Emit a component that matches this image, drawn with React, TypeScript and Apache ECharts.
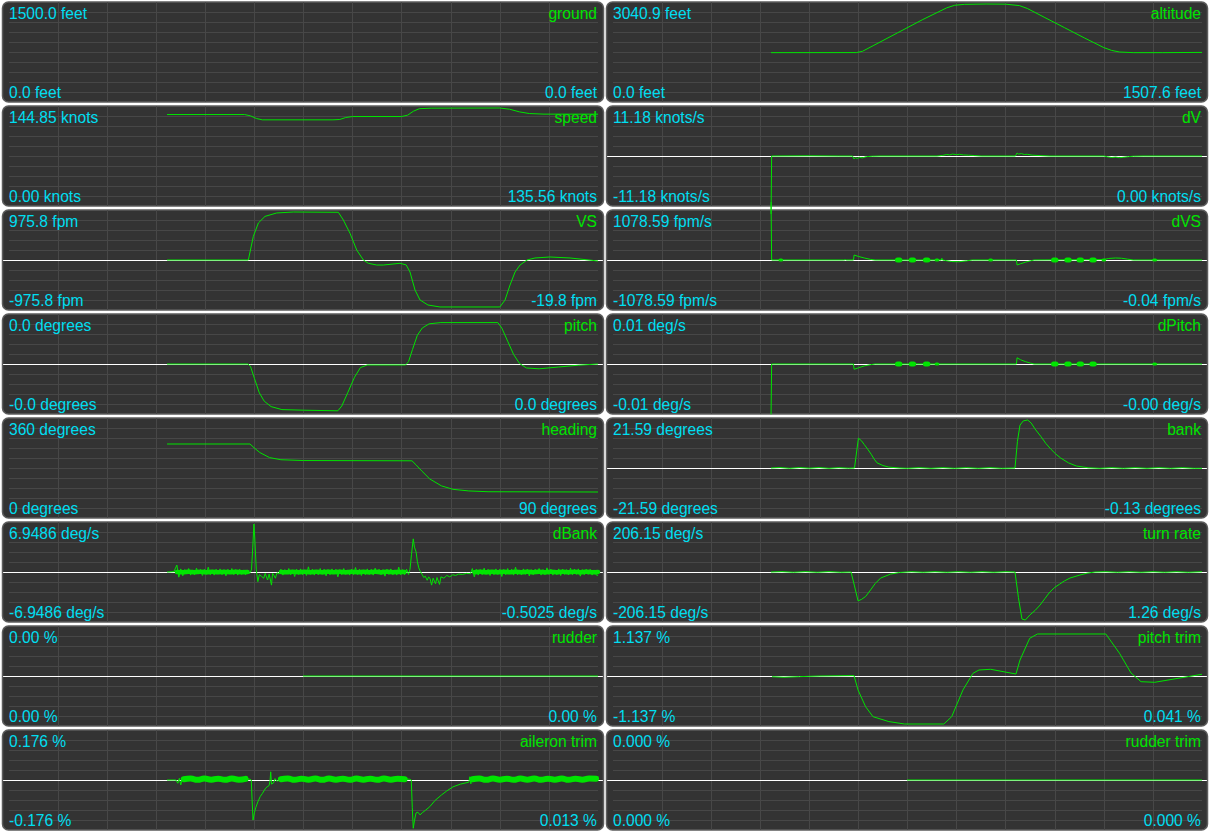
import React, { useEffect, useRef } from "react";
import * as echarts from "echarts";

type Pt = [number, number];

// ---------------- time window (seconds shown across each plot) ----------------
const T_END = 600;

// ---------------- labels: [top value, bottom value, current value] ----------------
const groundLabels = ["1500.0 feet", "0.0 feet", "0.0 feet"];
const altitudeLabels = ["3040.9 feet", "0.0 feet", "1507.6 feet"];
const speedLabels = ["144.85 knots", "0.00 knots", "135.56 knots"];
const dVLabels = ["11.18 knots/s", "-11.18 knots/s", "0.00 knots/s"];
const vsLabels = ["975.8 fpm", "-975.8 fpm", "-19.8 fpm"];
const dVSLabels = ["1078.59 fpm/s", "-1078.59 fpm/s", "-0.04 fpm/s"];
const pitchLabels = ["0.0 degrees", "-0.0 degrees", "0.0 degrees"];
const dPitchLabels = ["0.01 deg/s", "-0.01 deg/s", "-0.00 deg/s"];
const headingLabels = ["360 degrees", "0 degrees", "90 degrees"];
const bankLabels = ["21.59 degrees", "-21.59 degrees", "-0.13 degrees"];
const dBankLabels = ["6.9486 deg/s", "-6.9486 deg/s", "-0.5025 deg/s"];
const turnRateLabels = ["206.15 deg/s", "-206.15 deg/s", "1.26 deg/s"];
const rudderLabels = ["0.00 %", "0.00 %", "0.00 %"];
const pitchTrimLabels = ["1.137 %", "-1.137 %", "0.041 %"];
const aileronTrimLabels = ["0.176 %", "-0.176 %", "0.013 %"];
const rudderTrimLabels = ["0.000 %", "0.000 %", "0.000 %"];

// ---------------- value ranges [min, max] ----------------
const groundRange = [0, 1500];
const altitudeRange = [0, 3040.9];
const speedRange = [0, 144.85];
const dVRange = [-11.18, 11.18];
const vsRange = [-975.8, 975.8];
const dVSRange = [-1078.59, 1078.59];
const pitchRange = [-0.04, 0.04];
const dPitchRange = [-0.01, 0.01];
const headingRange = [0, 360];
const bankRange = [-21.59, 21.59];
const dBankRange = [-6.9486, 6.9486];
const turnRateRange = [-206.15, 206.15];
const rudderRange = [-1, 1];
const pitchTrimRange = [-1.137, 1.137];
const aileronTrimRange = [-0.176, 0.176];
const rudderTrimRange = [-1, 1];

// ---------------- series data: [time s, value] ----------------
const groundData: Pt[] = [];

const altitudeData: Pt[] = [
  [161, 1500], [248, 1502], [254, 1540], [265, 1720], [290, 2130], [315, 2540], [340, 2920],
  [348, 3000], [358, 3030], [380, 3040.9], [400, 3035], [414, 2990], [422, 2900], [440, 2610],
  [460, 2290], [480, 1970], [500, 1660], [508, 1570], [516, 1520], [530, 1500], [560, 1500], [600, 1507.6],
];

const speedData: Pt[] = [
  [161, 135], [240, 135], [246, 133], [252, 129], [258, 127], [330, 127], [337, 127.5],
  [343, 130.5], [350, 132], [400, 132], [406, 134], [412, 140], [418, 143.8], [430, 144.6],
  [500, 144.85], [510, 143], [520, 139], [530, 136.5], [545, 135.6], [600, 135.56],
];

const dVData: Pt[] = [
  [161, -13.5], [161.6, 0], [200, 0.05], [230, 0], [244, 0], [245.5, -0.7], [247, -0.4], [249, -0.6],
  [251, -0.3], [254, -0.45], [258, -0.15], [264, -0.05], [272, 0], [330, 0], [336, 0.15], [340, 0.35],
  [343, 0.25], [346, 0.45], [350, 0.3], [353, 0.4], [357, 0.25], [362, 0.2], [368, 0.1], [375, 0],
  [410, 0], [411.6, 0.7], [413, 0.45], [416, 0.55], [419, 0.35], [422, 0.4], [427, 0.2], [435, 0.1],
  [445, 0], [500, 0], [504, -0.2], [508, -0.35], [512, -0.25], [516, -0.4], [520, -0.3], [525, -0.15],
  [530, -0.05], [540, 0], [600, 0],
];

const vsData: Pt[] = [
  [161, 0], [243.8, 0], [248.9, 480], [254, 752], [260.8, 887], [272.7, 956], [289.6, 975.8],
  [335.5, 970], [340.6, 813], [347.4, 543], [354.2, 203], [361, 0], [366, -67], [374.6, -102],
  [381.3, -102], [398.3, -67], [404.6, -100], [408.5, -244], [413.6, -610], [418.7, -813],
  [426.8, -915], [439, -955], [500, -955], [505.3, -813], [510.4, -508], [515.5, -244],
  [520.6, -102], [527.7, 0], [535.8, 41], [551, 61], [571.5, 41], [600, -19.8],
];

const dVSData: Pt[] = [
  [161, 1300], [161.6, 0], [235, 0], [237, 8], [238, 0],
  [245, 0], [245.6, 112], [250, 80], [256, 45], [262, 15], [267, 0],
  [334.5, 0], [335, 40], [335.6, 0],
  [338, -10], [345, -35], [352, -40], [360, -20], [366, 0],
  [411, 0], [411.6, -112], [415, -85], [420, -50], [425, -20], [429, 0],
  [500, 10], [505, 35], [512, 45], [518, 40], [524, 20], [530, 0],
  [600, -0.04],
];
// centres (s) of short oscillation bursts drawn as blobs on the zero line
const dVSBigBursts = [291, 305, 319.5, 450, 463.5, 476, 489];
const dVSSmallBursts = [171, 330, 384.7, 500, 551.8];

const pitchData: Pt[] = [
  [161, 0], [243.5, 0], [246, -0.002], [250, -0.012], [255, -0.024], [260, -0.031], [267, -0.0355],
  [278, -0.038], [300, -0.0385], [335, -0.039], [339, -0.035], [345, -0.024], [352, -0.011],
  [358, -0.003], [365, -0.0008], [404, -0.0008], [407, 0.002], [411, 0.012], [416, 0.024],
  [421, 0.03], [428, 0.0335], [440, 0.0345], [498, 0.0345], [502, 0.03], [508, 0.019], [514, 0.008],
  [520, 0.0005], [527, -0.0033], [540, -0.004], [560, -0.0025], [580, -0.001], [600, 0],
];

const dPitchData: Pt[] = [
  [161, -0.0105], [161.6, 0],
  [245, 0], [245.6, -0.0011], [250, -0.0008], [256, -0.0004], [262, -0.00015], [267, 0],
  [411, 0], [411.6, 0.0013], [415, 0.0009], [420, 0.0005], [425, 0.0002], [429, 0],
  [600, 0],
];
const dPitchBigBursts = [291, 305, 319.5, 450, 463.5, 476, 489];
const dPitchSmallBursts = [330, 551.8];

const headingData: Pt[] = [
  [161, 270], [245.5, 270], [249.6, 256], [255.5, 238], [265.4, 219], [277, 211], [300, 208],
  [410.5, 207], [414.6, 192], [420.7, 168], [428.6, 139], [440.5, 113], [452.3, 100], [468.4, 94],
  [488, 91], [600, 90],
];

const bankData: Pt[] = [
  [161, 0], [170, 0.2], [180, -0.15], [190, 0.2], [200, -0.1], [210, 0.2], [220, -0.15], [230, 0.15],
  [240, -0.1], [246, 0], [250, 13.4], [253, 12.3], [256, 10.5], [259.4, 8.5], [263, 6.2], [266, 4],
  [269, 2.3], [275, 1.1], [281, 0.4], [292, 0], [300, -0.15], [312, 0.15], [324, -0.15], [336, 0.15],
  [348, -0.15], [360, 0.15], [372, -0.15], [384, 0.15], [396, -0.15], [409.5, 0], [412, 12],
  [414.6, 19.3], [418, 21.2], [422.5, 21.59], [426, 20.2], [430, 17.5], [436, 14.1], [441, 11],
  [446, 8.5], [451, 6.3], [456, 4.5], [464, 2.3], [472, 0.9], [484, 0.1], [496, -0.15], [508, 0.15],
  [520, -0.15], [532, 0.15], [544, -0.15], [556, 0.15], [568, -0.15], [580, 0.15], [592, -0.15],
  [600, -0.13],
];

// dBank: noise stretches sampled every 2 s, plus the two turn transients
const dBankNoiseA = [
  1.0, -0.75, 0.45, -0.55, 0.35, -0.3, 0.5, -0.45, 0.3, -0.4,
  0.55, -0.3, 0.35, -0.5, 0.4, -0.35, 0.7, -0.4, 0.3, -0.45,
  0.4, -0.3, 0.45, -0.4, 0.35, -0.55, 0.4, -0.3, 0.5, -0.4,
  0.35, -0.45, 0.4, -0.35, 0.3, -0.4,
];
const dBankNoiseB = [
  0.4, -0.45, 0.35, -0.3, 0.5, -0.4, 0.3, -0.65, 0.4, -0.35,
  0.45, -0.4, 0.3, -0.5, 0.75, -0.35, 0.4, -0.45, 0.3, -0.4,
  0.5, -0.35, 0.4, -0.55, 0.35, -0.4, 0.45, -0.3, 0.4, -0.7,
  0.35, -0.4, 0.5, -0.35, 0.3, -0.45, 0.4, -0.4, 0.65, -0.35,
  0.4, -0.5, 0.3, -0.4, 0.45, -0.35, 0.4, -0.45, 0.55, -0.3,
  0.4, -0.4, 0.35, -0.6, 0.4, -0.35, 0.45, -0.4, 0.3, -0.45,
  0.7, -0.4, 0.35, -0.4, 0.4, -0.35,
];
const dBankNoiseC = [
  0.5, -0.7, 0.4, -0.45, 0.35, -0.4, 0.55, -0.35, 0.4, -0.5,
  0.3, -0.4, 0.45, -0.35, 0.4, -0.65, 0.35, -0.4, 0.5, -0.3,
  0.4, -0.45, 0.7, -0.4, 0.3, -0.4, 0.45, -0.35, 0.4, -0.55,
  0.35, -0.4, 0.4, -0.3, 0.5, -0.45, 0.35, -0.4, 0.6, -0.35,
  0.4, -0.45, 0.3, -0.4, 0.45, -0.5, 0.4, -0.35, 0.35, -0.4,
  0.55, -0.4, 0.4, -0.35, 0.45, -0.6, 0.35, -0.4, 0.4, -0.35,
  0.4, -0.45, 0.3, -0.4, -0.5025,
];
// centre line of the dense noise band, sampled every 6 s
const dBankBandA = [0.0, -0.04, 0.03, -0.02, 0.02, -0.03, 0.03, -0.02, 0.01, -0.03, 0.02, -0.02, 0.0];
const dBankBandB = [
  0.0, -0.03, 0.02, -0.02, 0.03, -0.03, 0.02, -0.02, 0.03, -0.02, 0.02,
  -0.03, 0.02, -0.02, 0.03, -0.02, 0.02, -0.03, 0.02, -0.02, 0.01, 0.0,
];
const dBankBandC = [
  -0.02, 0.02, -0.03, 0.03, -0.02, 0.02, -0.03, 0.02, -0.02, 0.03, -0.02,
  0.02, -0.03, 0.02, -0.02, 0.03, -0.02, 0.02, -0.03, 0.02, -0.02, 0.01,
];
const dBankTurn1: Pt[] = [
  [242.5, 0.2], [245, -0.2], [247, 0.3], [248.3, 3.5], [249.5, 6.9486], [250.5, 4.5], [251.9, 0.3],
  [253.5, -1.4], [255, -0.4], [257, -0.6], [259.5, -0.9], [261, -0.2], [263.4, -1.16], [265, -0.3],
  [267.4, -1.9], [268.5, -0.2], [270, -0.5], [271.4, -0.9], [273, -0.1], [275, -0.3],
];
const dBankTurn2: Pt[] = [
  [408.5, 0.4], [410, 2.5], [411.8, 4.8], [413, 3.6], [414.7, 2.9], [416, 1.5], [417.4, 0.6],
  [419, 0.1], [421, -0.4], [422.5, -0.8], [424, -0.6], [426, -1.2], [427.5, -0.7], [429, -1.0],
  [430.5, -1.9], [432, -0.9], [434.5, -1.7], [436, -0.8], [438.6, -1.8], [440, -0.7], [443, -0.9],
  [446, -0.5], [449, -0.7], [452, -0.4], [455, -0.5], [458, -0.3], [462, -0.35], [466, -0.2], [470, -0.25],
];

const turnRateData: Pt[] = [
  [161, 0], [172, 1.5], [184, -1.2], [196, 1.5], [208, -1.2], [220, 1.5], [232, -1.2], [242.5, 0],
  [246, -60], [249.6, -124], [253, -118], [257.4, -105], [262.4, -77], [267, -50], [272.6, -26],
  [282.8, -9], [292, -2], [304, 1.2], [316, -1.2], [328, 1.2], [340, -1.2], [352, 1.2], [364, -1.2],
  [376, 1.2], [388, -1.2], [400, 1.2], [409.5, 0], [413, -110], [416.6, -202], [420, -206.15],
  [424.8, -184], [430, -165], [435, -142], [440, -114], [445, -86], [450, -66], [455, -52],
  [460, -38], [465.5, -26], [475.7, -13], [483, -5], [491, 0], [502, 1.2], [514, -1.2], [526, 1.2],
  [538, -1.2], [550, 1.2], [562, -1.2], [574, 1.2], [586, -1.2], [600, 1.26],
];

const rudderData: Pt[] = [[299.5, 0], [600, 0]];

const pitchTrimData: Pt[] = [
  [162, -0.017], [174, -0.03], [190, -0.015], [210, 0], [245.5, 0.01], [249.6, -0.33],
  [257.3, -0.727], [264.9, -0.964], [281, -1.08], [297, -1.137], [337, -1.137], [345, -0.964],
  [356.5, -0.33], [366.7, 0.064], [372.8, 0.142], [384.7, 0.159], [410.5, 0.047], [414.6, 0.379],
  [424.5, 0.893], [432.4, 0.995], [502, 0.995], [516, 0.538], [527.7, 0.071], [537.9, -0.135],
  [551.8, -0.149], [600, 0.041],
];

// aileron trim: thick oscillation band (centre line, sampled every 7 s) + thin transients
const aileronBandA = [0.003, 0.0055, 0.0005, 0.0055, 0.001, 0.005, 0.0005, 0.0055, 0.001, 0.004];
const aileronBandB = [
  0.003, 0.0055, 0.0005, 0.005, 0.001, 0.0055, 0.0005, 0.0055, 0.001, 0.005,
  0.0005, 0.0055, 0.001, 0.005, 0.0005, 0.0055, 0.001, 0.005, 0.003,
];
const aileronBandC = [
  0.003, 0.0055, 0.0005, 0.0055, 0.001, 0.005, 0.0005, 0.0055, 0.001, 0.0055,
  0.0005, 0.005, 0.001, 0.0055, 0.0005, 0.005, 0.001, 0.0055, 0.005,
];
const aileronPre: Pt[] = [
  [161, 0], [170, 0], [172, -0.012], [173.5, 0.006], [175, -0.018], [176.5, 0.004], [178, 0.004],
];
const aileronTurn1: Pt[] = [
  [245, 0.003], [246.8, 0], [247.6, -0.07], [248.6, -0.147], [250, -0.12], [251.5, -0.1],
  [253.5, -0.08], [256, -0.06], [258, -0.05], [261.4, -0.03], [263, -0.025], [265, -0.02], [266, 0],
  [266.6, 0.03], [267.4, -0.015], [269.4, -0.011], [271, 0.005], [273, -0.005], [275.4, 0.003],
];
const aileronTurn2: Pt[] = [
  [408, 0.003], [409.8, 0], [410.8, -0.1], [411.8, -0.177], [413, -0.15], [414.6, -0.121],
  [416.5, -0.118], [418.7, -0.128], [421, -0.12], [424.6, -0.11], [428.6, -0.098], [434, -0.075],
  [440.5, -0.055], [446, -0.04], [452.3, -0.025], [460, -0.015], [468.4, -0.008], [469.5, 0.012],
  [470.5, -0.014], [471.5, 0.01], [472, 0.003],
];
const aileronEnd: Pt[] = [[600, 0.013]];

const rudderTrimData: Pt[] = [[299.5, 0], [600, 0]];

// ---------------- helpers to place samples on the time axis ----------------
const sampled = (vals: number[], t0: number, dt: number): Pt[] => vals.map((v, i) => [t0 + i * dt, v]);
const burst = (t: number, half: number): Pt[] => [[t - half, 0], [t + half, 0]];

const dBankData: Pt[] = [
  [161, 0], [168, 0.05],
  ...sampled(dBankNoiseA, 171, 2),
  ...dBankTurn1,
  ...sampled(dBankNoiseB, 277, 2),
  ...dBankTurn2,
  ...sampled(dBankNoiseC, 472, 2),
];

const aileronBandSegA = sampled(aileronBandA, 178, 7);
const aileronBandSegB = sampled(aileronBandB, 277, 7);
const aileronBandSegC = sampled(aileronBandC, 472, 7);
const aileronTrimData: Pt[] = [
  ...aileronPre, ...aileronBandSegA, ...aileronTurn1, ...aileronBandSegB,
  ...aileronTurn2, ...aileronBandSegC, ...aileronEnd,
];

// ---------------- panel table ----------------
interface Band { data: Pt[]; width: number; smooth?: boolean }
interface Panel {
  name: string;
  labels: string[];
  range: number[];
  zero: boolean;
  lines: Pt[][];
  bands?: Band[];
}

const panels: Panel[] = [
  { name: "ground", labels: groundLabels, range: groundRange, zero: false, lines: [groundData] },
  { name: "altitude", labels: altitudeLabels, range: altitudeRange, zero: false, lines: [altitudeData] },
  { name: "speed", labels: speedLabels, range: speedRange, zero: false, lines: [speedData] },
  { name: "dV", labels: dVLabels, range: dVRange, zero: true, lines: [dVData] },
  { name: "VS", labels: vsLabels, range: vsRange, zero: true, lines: [vsData] },
  {
    name: "dVS", labels: dVSLabels, range: dVSRange, zero: true, lines: [dVSData],
    bands: [
      ...dVSBigBursts.map((t) => ({ data: burst(t, 1.2), width: 5 })),
      ...dVSSmallBursts.map((t) => ({ data: burst(t, 0.8), width: 3 })),
    ],
  },
  { name: "pitch", labels: pitchLabels, range: pitchRange, zero: true, lines: [pitchData] },
  {
    name: "dPitch", labels: dPitchLabels, range: dPitchRange, zero: true, lines: [dPitchData],
    bands: [
      ...dPitchBigBursts.map((t) => ({ data: burst(t, 1.2), width: 5 })),
      ...dPitchSmallBursts.map((t) => ({ data: burst(t, 0.8), width: 3 })),
    ],
  },
  { name: "heading", labels: headingLabels, range: headingRange, zero: false, lines: [headingData] },
  { name: "bank", labels: bankLabels, range: bankRange, zero: true, lines: [bankData] },
  {
    name: "dBank", labels: dBankLabels, range: dBankRange, zero: true, lines: [dBankData],
    bands: [
      { data: sampled(dBankBandA, 171, 6), width: 4.5, smooth: true },
      { data: sampled(dBankBandB, 277, 6), width: 4.5, smooth: true },
      { data: sampled(dBankBandC, 474, 6), width: 4.5, smooth: true },
    ],
  },
  { name: "turn rate", labels: turnRateLabels, range: turnRateRange, zero: true, lines: [turnRateData] },
  { name: "rudder", labels: rudderLabels, range: rudderRange, zero: true, lines: [rudderData] },
  { name: "pitch trim", labels: pitchTrimLabels, range: pitchTrimRange, zero: true, lines: [pitchTrimData] },
  {
    name: "aileron trim", labels: aileronTrimLabels, range: aileronTrimRange, zero: true,
    lines: [aileronTrimData],
    bands: [
      { data: aileronBandSegA, width: 6, smooth: true },
      { data: aileronBandSegB, width: 6, smooth: true },
      { data: aileronBandSegC, width: 6, smooth: true },
    ],
  },
  { name: "rudder trim", labels: rudderTrimLabels, range: rudderTrimRange, zero: true, lines: [rudderTrimData] },
];

// ---------------- layout / style ----------------
const COL_X = [2.5, 606.5];
const TOP0 = 2;
const ROW_PITCH = 104;
const PANEL_W = 601;
const PANEL_H = 100;
const PLOT_L = 6.5; // offset of t = 0 inside the panel
const PLOT_W = 589; // pixels for T_END seconds
const CYAN = "#00def0";
const NAME_GREEN = "#00e400";
const LINE_GREEN = "#00e400";
const FONT = "15.6px 'Liberation Sans', Arial, sans-serif";

function buildOption() {
  const grid: any[] = [];
  const xAxis: any[] = [];
  const yAxis: any[] = [];
  const series: any[] = [];
  const graphic: any[] = [];
  const pxPerSec = PLOT_W / T_END;
  const xMin = -(PLOT_L - 1) / pxPerSec;
  const xMax = T_END + (PANEL_W - 1 - PLOT_L - PLOT_W) / pxPerSec;

  panels.forEach((p, i) => {
    const col = i % 2;
    const row = Math.floor(i / 2);
    const px = COL_X[col];
    const py = TOP0 + row * ROW_PITCH;
    const gLines = grid.length;
    const gData = gLines + 1;

    graphic.push({
      type: "rect",
      z: -1,
      silent: true,
      shape: { x: px, y: py, width: PANEL_W, height: PANEL_H, r: 6 },
      style: { fill: "#333333", stroke: "#5c5c5c", lineWidth: 1.5 },
    });

    grid.push({ left: px + PLOT_L, top: py, width: PLOT_W, height: PANEL_H });
    xAxis.push({
      gridIndex: gLines, type: "value", min: 0, max: 12, interval: 1,
      axisLine: { show: false }, axisTick: { show: false }, axisLabel: { show: false },
      splitLine: { show: true, showMinLine: false, showMaxLine: false, lineStyle: { color: "#474747", width: 1 } },
    });
    yAxis.push({
      gridIndex: gLines, type: "value", min: 0, max: 10, interval: 1,
      axisLine: { show: false }, axisTick: { show: false }, axisLabel: { show: false },
      splitLine: { show: true, showMinLine: false, showMaxLine: false, lineStyle: { color: "#474747", width: 1 } },
    });

    grid.push({ left: px + 1, top: py + 2, width: PANEL_W - 2, height: PANEL_H - 4 });
    xAxis.push({
      gridIndex: gData, type: "value", min: xMin, max: xMax,
      axisLine: { show: p.zero, onZero: true, lineStyle: { color: "#ffffff", width: 1 } },
      axisTick: { show: false }, axisLabel: { show: false }, splitLine: { show: false },
    });
    yAxis.push({
      gridIndex: gData, type: "value", min: p.range[0], max: p.range[1],
      axisLine: { show: false }, axisTick: { show: false }, axisLabel: { show: false }, splitLine: { show: false },
    });

    (p.bands || []).forEach((b) => {
      series.push({
        type: "line", name: p.name, xAxisIndex: gData, yAxisIndex: gData, data: b.data,
        symbol: "none", showSymbol: false, smooth: !!b.smooth, clip: false, silent: true, z: 3,
        lineStyle: { color: LINE_GREEN, width: b.width, cap: "round" },
      });
    });
    p.lines.forEach((d) => {
      series.push({
        type: "line", name: p.name, xAxisIndex: gData, yAxisIndex: gData, data: d,
        symbol: "none", showSymbol: false, clip: false, silent: true, z: 4,
        lineStyle: { color: LINE_GREEN, width: 1 },
      });
    });

    const lx = px + PLOT_L;
    const rx = px + PANEL_W - PLOT_L;
    const txt = (text: string, x: number, y: number, align: string, fill: string) => ({
      type: "text", x, y, z: 10, silent: true,
      style: { text, fill, font: FONT, textAlign: align, textVerticalAlign: "middle" },
    });
    graphic.push(txt(p.labels[0], lx, py + 11, "left", CYAN));
    graphic.push(txt(p.labels[1], lx, py + 90, "left", CYAN));
    graphic.push(txt(p.name, rx, py + 11, "right", NAME_GREEN));
    graphic.push(txt(p.labels[2], rx, py + 90, "right", CYAN));
  });

  return { animation: false, backgroundColor: "#ffffff", grid, xAxis, yAxis, series, graphic };
}

export default function App() {
  const ref = useRef<HTMLDivElement>(null);
  useEffect(() => {
    if (!ref.current) return;
    const chart = echarts.init(ref.current, undefined, { renderer: "svg" });
    chart.setOption(buildOption() as any);
    return () => chart.dispose();
  }, []);
  return (
    <div
      ref={ref}
      style={{ position: "absolute", left: 0, top: 0, width: 1210, height: 834 }}
    />
  );
}
